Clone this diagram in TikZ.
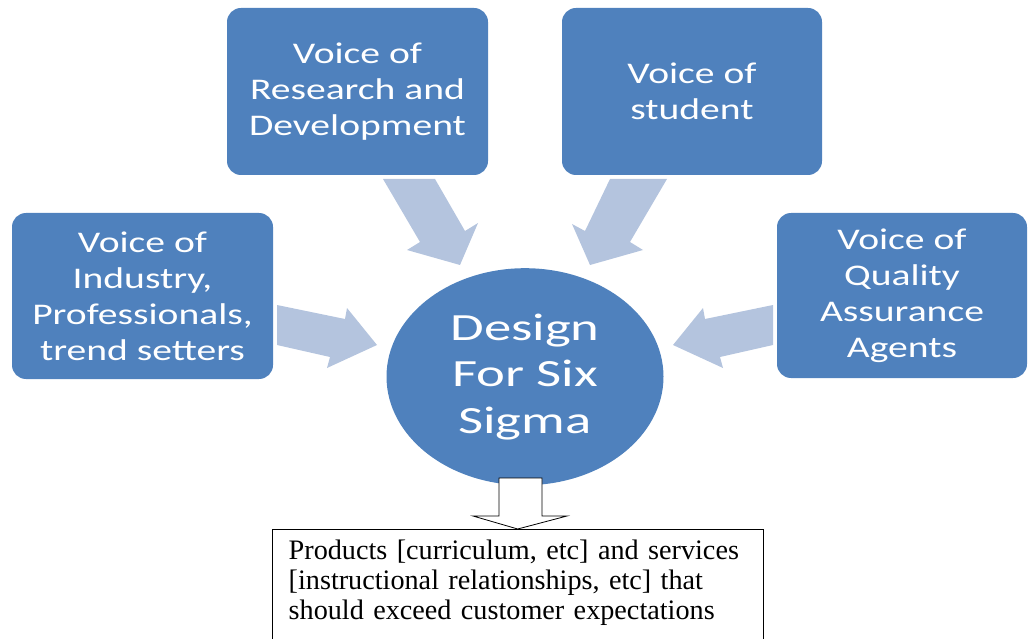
\documentclass[tikz,border=0pt]{standalone}
\usepackage{fontspec}
\setmainfont{Liberation Serif}
\newfontfamily\voicefont[FakeStretch=1.32]{Carlito}
\newfontfamily\sigmafont[FakeStretch=1.42]{Carlito}
\usetikzlibrary{shapes.geometric}
\definecolor{voiceblue}{RGB}{79,129,189}
\definecolor{feedblue}{RGB}{180,196,222}
\tikzset{
  voice/.style={fill=voiceblue, rounded corners=14pt, text=white, align=center,
    inner sep=0pt, minimum height=167pt,
    font=\voicefont\fontsize{30}{36}\selectfont},
  feed/.style={fill=feedblue},
}

\begin{document}
\begin{tikzpicture}[x=1pt,y=-1pt]
  \useasboundingbox (0,0) rectangle (1028,639);

  % block arrows into the centre
  \fill[feed] (383,179) -- (435,179) -- (465,231) -- (478,223) -- (460,265)
    -- (407,250) -- (420,242) -- cycle;
  \fill[feed] (667,179) -- (610,179) -- (585,231) -- (572,224) -- (590,265)
    -- (643,250) -- (630,242) -- cycle;
  \fill[feed] (277,305) -- (345,319) -- (347,308) -- (377,345) -- (327,368)
    -- (330,357) -- (277,345) -- cycle;
  \fill[feed] (773,305) -- (705,319) -- (703,308) -- (673,345) -- (723,368)
    -- (720,357) -- (773,345) -- cycle;

  \node[voice, minimum width=261pt] (research) at (357.5,91.5) {Voice of\\Research and\\Development};
  \node[voice, minimum width=260pt] (student) at (692,91.5) {Voice of\\student};
  \node[voice, minimum width=261pt, minimum height=166pt] (industry) at (142.5,296)
    {Voice of\\Industry,\\Professionals,\\trend setters};
  \node[voice, minimum width=250pt, minimum height=165pt] (quality) at (902,295.5)
    {Voice of\\Quality\\Assurance\\Agents};

  \node[ellipse, fill=voiceblue, text=white, align=center, inner sep=0pt,
    minimum width=277pt, minimum height=217pt,
    font=\sigmafont\fontsize{38.5}{46.5}\selectfont] (dfss) at (525,376.7)
    {Design\\For Six\\Sigma};

  % outcome box (runs off the bottom) and the arrow down to it
  \node[anchor=north west, align=left, text width=458pt,
    inner xsep=16.5pt, inner ysep=11pt, font=\fontsize{28.2}{29.8}\selectfont]
    (outcome) at (272,529)
    {Products [curriculum, etc] and services\\{[}instructional relationships, etc{]} that\\should exceed customer expectations};
  \draw ([yshift=-130pt]outcome.north west) -- (outcome.north west)
    -- (outcome.north east) -- ([yshift=-130pt]outcome.north east);
  \draw[fill=white, line width=0.8pt] (499,478) -- (542,478) -- (542,516) -- (567,516)
    -- (outcome.north) -- (473,516) -- (499,516) -- cycle;
\end{tikzpicture}
\end{document}
